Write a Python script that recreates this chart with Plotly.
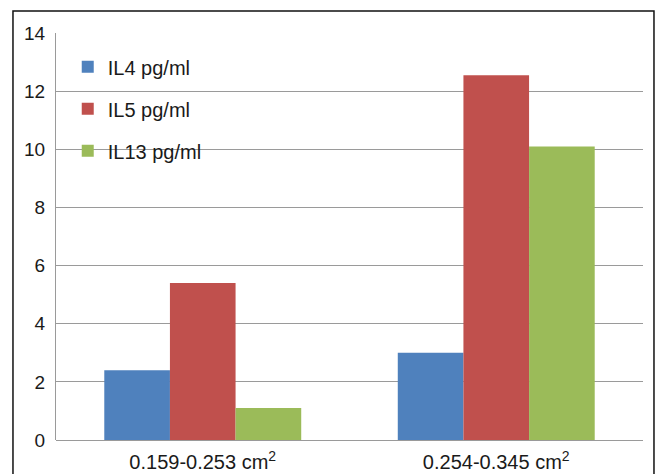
import plotly.graph_objects as go

# Surface-area ranges (x categories)
categories = ["0.159-0.253 cm<sup>2</sup>", "0.254-0.345 cm<sup>2</sup>"]

# Cytokine levels per range
il4 = [2.4, 3.0]
il5 = [5.4, 12.55]
il13 = [1.1, 10.1]

series = [
    ("IL4 pg/ml", il4, "#4F81BD"),
    ("IL5 pg/ml", il5, "#C0504D"),
    ("IL13 pg/ml", il13, "#9BBB59"),
]

FONT = "Liberation Sans, Arial, sans-serif"

fig = go.Figure()
for i, (name, vals, color) in enumerate(series):
    fig.add_trace(go.Bar(
        x=categories, y=vals, name=name,
        marker=dict(color=color, line=dict(width=0)),
        legendgroup=f"g{i}",
    ))

fig.update_layout(
    width=661, height=474,
    margin=dict(l=56, r=18, t=33, b=34),
    paper_bgcolor="white", plot_bgcolor="white",
    barmode="group", bargap=0.329, bargroupgap=0,
    font=dict(family=FONT, size=19, color="#1a1a1a"),
    showlegend=True,
    legend=dict(
        x=0.02, y=0.965, xanchor="left", yanchor="top",
        bgcolor="rgba(0,0,0,0)", borderwidth=0,
        font=dict(family=FONT, size=20, color="#1a1a1a"),
        tracegroupgap=13, traceorder="grouped",
    ),
    xaxis=dict(
        showgrid=False, showline=False, ticks="",
        ticklabelstandoff=8, automargin=False,
        tickfont=dict(family=FONT, size=20, color="#1a1a1a"),
    ),
    yaxis=dict(
        range=[0, 14], dtick=2, tick0=0,
        showgrid=True, gridcolor="#9a9a9a", gridwidth=1,
        zeroline=True, zerolinecolor="#9a9a9a", zerolinewidth=1,
        showline=True, linecolor="#9a9a9a", linewidth=1,
        ticks="", ticklabelstandoff=6, automargin=False,
        tickfont=dict(family=FONT, size=19, color="#1a1a1a"),
    ),
    shapes=[dict(
        type="rect", xref="paper", yref="paper",
        x0=-0.0733, x1=1.0187, y0=-0.3, y1=1.054,
        line=dict(color="#111111", width=1.5), fillcolor="rgba(0,0,0,0)",
        layer="below",
    )],
)

fig.write_html("out.html")
